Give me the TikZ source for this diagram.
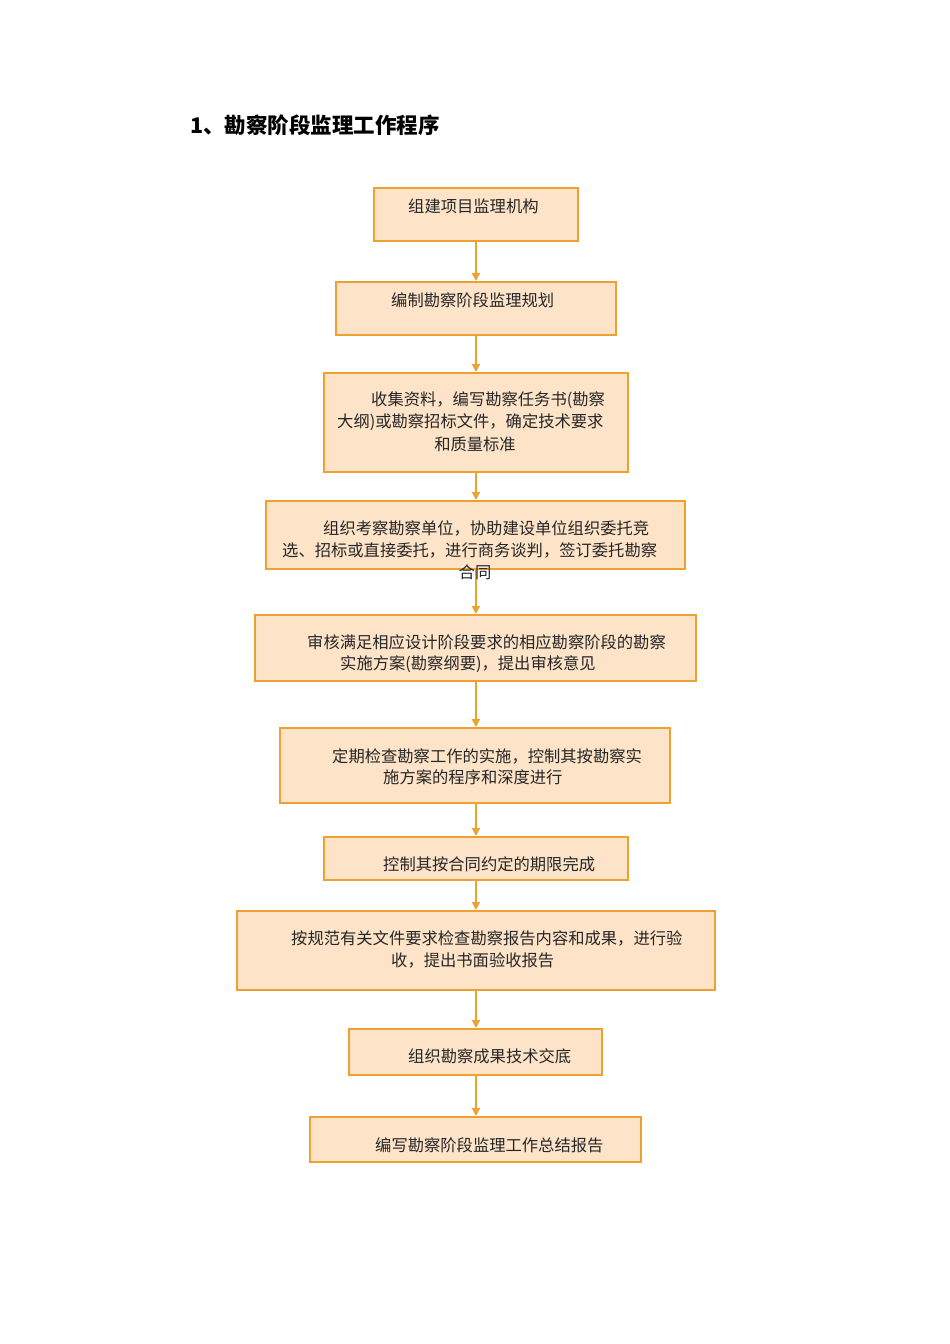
\documentclass[tikz,border=0pt]{standalone}
\usepackage{fontspec}
\setmainfont{Noto Sans CJK SC}
\usetikzlibrary{arrows.meta}
\definecolor{bord}{HTML}{EEA030}
\definecolor{fillc}{HTML}{FDE3C8}
\begin{document}
\begin{tikzpicture}[x=1pt,y=-1pt,
  bx/.style={draw=bord,line width=1.8pt,fill=fillc},
  ar/.style={draw=bord,line width=2pt,-{Triangle[length=8pt,width=8pt]}},
  tx/.style={font=\fontsize{16.3}{18}\selectfont,inner sep=0pt,text=black!85}]
\useasboundingbox (0,0) rectangle (950,1344);
\node[anchor=west,font=\fontsize{21.5}{24}\selectfont\bfseries,inner sep=0pt] (title) at (190,125) {1、勘察阶段监理工作程序};
\node[bx,minimum width=204pt,minimum height=53pt,anchor=north west] (b1) at (373,187) {};
\node[bx,minimum width=280pt,minimum height=53pt,anchor=north west] (b2) at (335,281) {};
\node[bx,minimum width=304pt,minimum height=99pt,anchor=north west] (b3) at (323,372) {};
\node[bx,minimum width=419pt,minimum height=68pt,anchor=north west] (b4) at (265,500) {};
\node[bx,minimum width=441pt,minimum height=66pt,anchor=north west] (b5) at (254,614) {};
\node[bx,minimum width=390pt,minimum height=75pt,anchor=north west] (b6) at (279,727) {};
\node[bx,minimum width=304pt,minimum height=43pt,anchor=north west] (b7) at (323,836) {};
\node[bx,minimum width=478pt,minimum height=79pt,anchor=north west] (b8) at (236,910) {};
\node[bx,minimum width=253pt,minimum height=46pt,anchor=north west] (b9) at (348,1028) {};
\node[bx,minimum width=331pt,minimum height=45pt,anchor=north west] (b10) at (309,1116) {};
\foreach \a/\b in {b1/b2,b2/b3,b3/b4,b4/b5,b5/b6,b6/b7,b7/b8,b8/b9,b9/b10}
  \draw[ar] (\a.south -| b1.south) -- (\b.north -| b1.south);
\node[tx,anchor=west] (t1) at (408,206) {组建项目监理机构};
\node[tx,anchor=west] (t2) at (391,300) {编制勘察阶段监理规划};
\node[tx,anchor=west] (t3a) at (371,400) {收集资料，编写勘察任务书(勘察};
\node[tx,anchor=west] (t3b) at (337,422) {大纲)或勘察招标文件，确定技术要求};
\node[tx] (t3c) at (475,444) {和质量标准};
\node[tx,anchor=west] (t4a) at (323,528) {组织考察勘察单位，协助建设单位组织委托竞};
\node[tx,anchor=west] (t4b) at (282,550) {选、招标或直接委托，进行商务谈判，签订委托勘察};
\node[tx] (t4c) at (475,572) {合同};
\node[tx,anchor=west] (t5a) at (307,642) {审核满足相应设计阶段要求的相应勘察阶段的勘察};
\node[tx,anchor=west] (t5b) at (340,664) {实施方案(勘察纲要)，提出审核意见};
\node[tx,anchor=west] (t6a) at (332,756) {定期检查勘察工作的实施，控制其按勘察实};
\node[tx,anchor=west] (t6b) at (383,777) {施方案的程序和深度进行};
\node[tx,anchor=west] (t7) at (383,864) {控制其按合同约定的期限完成};
\node[tx,anchor=west] (t8a) at (291,938) {按规范有关文件要求检查勘察报告内容和成果，进行验};
\node[tx,anchor=west] (t8b) at (391,960) {收，提出书面验收报告};
\node[tx,anchor=west] (t9) at (408,1056) {组织勘察成果技术交底};
\node[tx,anchor=west] (t10) at (375,1145) {编写勘察阶段监理工作总结报告};
\end{tikzpicture}
\end{document}
